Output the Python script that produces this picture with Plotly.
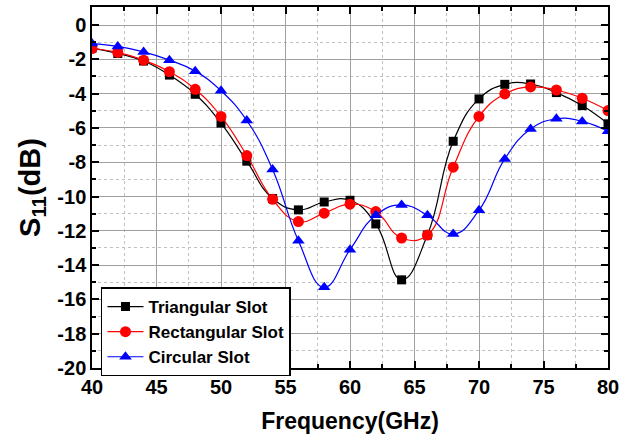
import plotly.graph_objects as go

freq = [40, 42, 44, 46, 48, 50, 52, 54, 56, 58, 60, 62, 64, 66, 68, 70, 72, 74, 76, 78, 80]

triangular = [-1.35, -1.66, -2.1, -2.92, -4.04, -5.72, -7.94, -10.12, -10.78, -10.32, -10.22,
              -11.6, -14.86, -12.25, -6.78, -4.31, -3.46, -3.44, -3.94, -4.7, -5.76]
rectangular = [-1.37, -1.6, -2.05, -2.72, -3.75, -5.33, -7.61, -10.16, -11.46, -10.97, -10.45,
               -10.88, -12.42, -12.25, -8.29, -5.33, -4.02, -3.61, -3.79, -4.27, -4.99]
circular = [-1.08, -1.25, -1.57, -2.05, -2.69, -3.83, -5.57, -8.42, -12.58, -15.29, -13.1,
            -11.09, -10.49, -11.09, -12.19, -10.8, -7.81, -6.07, -5.47, -5.62, -6.2]

x_ticks = [40, 45, 50, 55, 60, 65, 70, 75, 80]
y_ticks = [0, -2, -4, -6, -8, -10, -12, -14, -16, -18, -20]
y_ticktext = ["0", "-2", "-4", "-6", "-8", "-10", "-12", "-14", "-16", "-18", "-20"]

series = [
    ("Triangular Slot", triangular, "black", "square", 9),
    ("Rectangular Slot", rectangular, "red", "circle", 11),
    ("Circular Slot", circular, "blue", "triangle-up", 11),
]

fig = go.Figure()
for name, vals, color, sym, size in series:
    fig.add_trace(go.Scatter(
        x=freq, y=vals, name=name, mode="lines+markers",
        line=dict(color=color, width=1.2, shape="spline", smoothing=1.3),
        marker=dict(symbol=sym, size=size, color=color),
    ))

font_family = "Liberation Sans, Arial, sans-serif"

fig.update_layout(
    width=635, height=445,
    margin=dict(l=92, r=27, t=5, b=77),
    paper_bgcolor="white", plot_bgcolor="white",
    font=dict(family=font_family, color="black"),
    showlegend=True,
    legend=dict(
        x=0.0174, y=0.223, xanchor="left", yanchor="top",
        bgcolor="white", bordercolor="black", borderwidth=1.5,
        font=dict(size=17, family=font_family, weight="bold"),
        tracegroupgap=0, itemwidth=36,
    ),
)

fig.update_xaxes(
    range=[40, 80], tickvals=x_ticks,
    ticks="inside", ticklen=7, tickwidth=1.5, tickcolor="black",
    showline=True, linecolor="black", linewidth=1.5, mirror="allticks",
    showgrid=True, gridcolor="#a0a0a0", gridwidth=1,
    minor=dict(dtick=2.5, ticks="inside", ticklen=4, tickcolor="black",
               showgrid=True, gridcolor="#c0c0c0", griddash="dot", gridwidth=1),
    tickfont=dict(size=20, family=font_family, weight="bold"),
    title=dict(text="Frequency(GHz)", font=dict(size=23, family=font_family, weight="bold"), standoff=16),
    zeroline=False,
)
fig.update_yaxes(
    range=[-20, 1.05], tickvals=y_ticks, ticktext=y_ticktext,
    ticks="inside", ticklen=7, tickwidth=1.5, tickcolor="black",
    showline=True, linecolor="black", linewidth=1.5, mirror="allticks",
    showgrid=True, gridcolor="#a0a0a0", gridwidth=1,
    minor=dict(dtick=1, ticks="inside", ticklen=4, tickcolor="black",
               showgrid=True, gridcolor="#c0c0c0", griddash="dot", gridwidth=1),
    tickfont=dict(size=20, family=font_family, weight="bold"),
    title=dict(text="S<sub>11</sub>(dB)", font=dict(size=29, family=font_family, weight="bold"), standoff=8),
    zeroline=False,
)

fig.write_html("out.html")
